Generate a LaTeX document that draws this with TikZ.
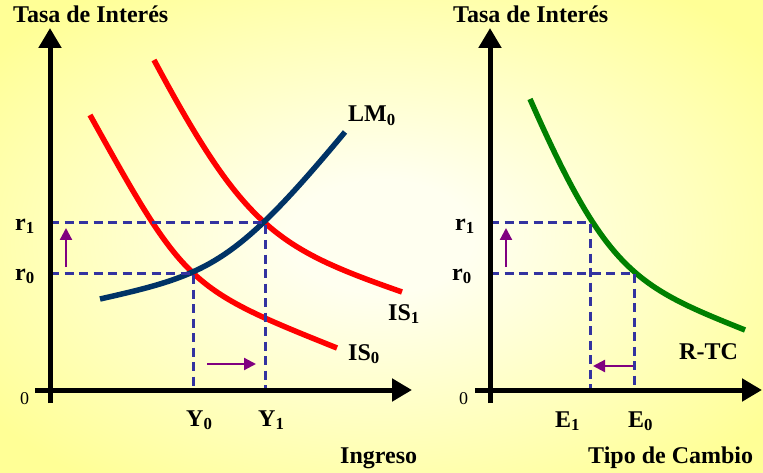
\documentclass[tikz,border=0pt]{standalone}
\usepackage{fontspec}
\setmainfont{Liberation Serif}
\usetikzlibrary{arrows.meta}
\definecolor{bgin}{RGB}{255,255,240}
\definecolor{bgout}{RGB}{255,255,150}
\definecolor{isred}{RGB}{255,0,0}
\definecolor{lmblue}{RGB}{0,51,102}
\definecolor{rtcgreen}{RGB}{0,128,0}
\definecolor{dashblue}{RGB}{51,51,160}
\definecolor{shiftpurple}{RGB}{128,0,128}
\pgfdeclareradialshading{bgshade}{\pgfpoint{0bp}{0bp}}{color(0bp)=(bgin); color(6bp)=(bgin); color(32bp)=(bgout); color(50bp)=(bgout)}
\begin{document}
\begin{tikzpicture}[x=1pt,y=-1pt,
  font=\fontsize{24}{28}\selectfont\bfseries,
  axisline/.style={line width=5pt,-{Triangle[length=20pt,width=22pt]}},
  curveline/.style={line width=5.5pt},
  guide/.style={dashblue,line width=3pt,dash pattern=on 9pt off 5.5pt},
  shiftarrow/.style={shiftpurple,line width=2.2pt,-{Triangle[length=12pt,width=12pt]}},
  lbl/.style={inner sep=0pt,anchor=base west},
  zerolbl/.style={inner sep=0pt,anchor=base west,font=\fontsize{18}{20}\selectfont}]
\shade[shading=bgshade] (0,0) rectangle (763,473);
\useasboundingbox (0,0) rectangle (763,473);

% ---------- left panel ----------
\coordinate (LyB) at (50,403);
\coordinate (LyT) at (50,28);
\coordinate (LxL) at (35,390);
\coordinate (LxR) at (412,390);
\coordinate (Lr1) at (50,223);
\coordinate (Lr0) at (50,273);
\coordinate (A1) at (265,223);
\coordinate (A0) at (193,273);
\coordinate (LY0) at (193,388);
\coordinate (LY1) at (265,388);
\coordinate (Lup0) at (66,267);
\coordinate (Lup1) at (66,228);
\coordinate (Lrt0) at (207,364);
\coordinate (Lrt1) at (256,364);

\coordinate (IS0a) at (90,115);
\coordinate (IS0b) at (337,348);
\coordinate (IS1a) at (154,60);
\coordinate (IS1b) at (402,292);
\coordinate (LMa) at (100,299);
\coordinate (LMb) at (345,132);

\draw[isred,curveline] (IS0a) .. controls (184.7,285.4) and (187.6,288.2) .. (IS0b);
\draw[isred,curveline] (IS1a) .. controls (244.4,229) and (276.9,248.2) .. (IS1b);
\draw[lmblue,curveline] (LMa) .. controls (209,274.5) and (234.6,264.5) .. (LMb);

\draw[guide] (Lr1) -- (A1) -- (LY1);
\draw[guide] (Lr0) -- (A0) -- (LY0);

\draw[axisline] (LyB) -- (LyT);
\draw[axisline] (LxL) -- (LxR);

\draw[shiftarrow] (Lup0) -- (Lup1);
\draw[shiftarrow] (Lrt0) -- (Lrt1);

\node[lbl] (t1) at (13,23) {Tasa de Interés};
\node[lbl] (lr1) at (15,230) {r\textsubscript{1}};
\node[lbl] (lr0) at (15,280) {r\textsubscript{0}};
\node[zerolbl] (lz) at (20,404) {0};
\node[lbl] (lm) at (348,122) {LM\textsubscript{0}};
\node[lbl] (is1) at (388,320) {IS\textsubscript{1}};
\node[lbl] (is0) at (348,360) {IS\textsubscript{0}};
\node[lbl] (y0) at (186,426) {Y\textsubscript{0}};
\node[lbl] (y1) at (258,426) {Y\textsubscript{1}};
\node[lbl] (ing) at (340,463) {Ingreso};

% ---------- right panel ----------
\coordinate (RyB) at (490,403);
\coordinate (RyT) at (490,28);
\coordinate (RxL) at (475,390);
\coordinate (RxR) at (762,390);
\coordinate (Rr1) at (490,223);
\coordinate (Rr0) at (490,273);
\coordinate (B1) at (590,223);
\coordinate (B0) at (634,273);
\coordinate (RE1) at (590,388);
\coordinate (RE0) at (634,388);
\coordinate (Rup0) at (506,267);
\coordinate (Rup1) at (506,228);
\coordinate (Rlt0) at (633,366);
\coordinate (Rlt1) at (593,366);
\coordinate (RTCa) at (530,99);
\coordinate (RTCb) at (745,330);

\draw[rtcgreen,curveline] (RTCa) .. controls (606.3,272.2) and (635.4,286.2) .. (RTCb);

\draw[guide] (Rr1) -- (B1) -- (RE1);
\draw[guide] (Rr0) -- (B0) -- (RE0);

\draw[axisline] (RyB) -- (RyT);
\draw[axisline] (RxL) -- (RxR);

\draw[shiftarrow] (Rup0) -- (Rup1);
\draw[shiftarrow] (Rlt0) -- (Rlt1);

\node[lbl] (t2) at (453,23) {Tasa de Interés};
\node[lbl] (rr1) at (455,230) {r\textsubscript{1}};
\node[lbl] (rr0) at (452,280) {r\textsubscript{0}};
\node[zerolbl] (rz) at (459,404) {0};
\node[lbl] (rtc) at (679,359) {R-TC};
\node[lbl] (e1) at (555,427) {E\textsubscript{1}};
\node[lbl] (e0) at (628,427) {E\textsubscript{0}};
\node[lbl] (tc) at (588,463) {Tipo de Cambio};
\end{tikzpicture}
\end{document}
